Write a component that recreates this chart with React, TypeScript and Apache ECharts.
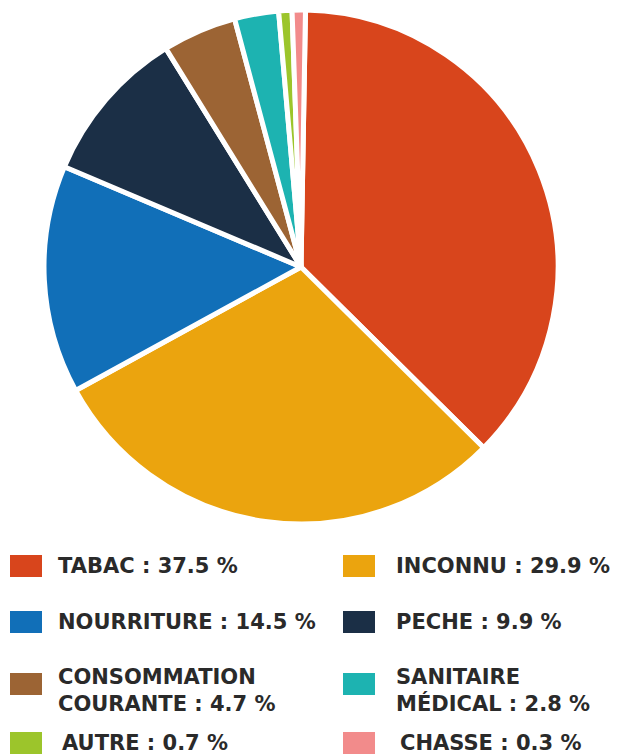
import React, { useEffect, useRef } from "react";
import * as echarts from "echarts";

const categories = [
  "TABAC",
  "INCONNU",
  "NOURRITURE",
  "PECHE",
  "CONSOMMATION\nCOURANTE",
  "SANITAIRE\nMÉDICAL",
  "AUTRE",
  "CHASSE",
];
const values = [37.5, 29.9, 14.5, 9.9, 4.7, 2.8, 0.7, 0.3];
const colors = [
  "#D8451C",
  "#EBA40E",
  "#116FB8",
  "#1B2F46",
  "#9C6434",
  "#1DB3B1",
  "#9CC52B",
  "#F28B8B",
];

export default function App() {
  const ref = useRef<HTMLDivElement>(null);

  useEffect(() => {
    document.body.style.margin = "0";
    const chart = echarts.init(ref.current!, null, { renderer: "svg" });

    const font = "DejaVu Sans";
    const colSwatchX = [10, 343];
    const colTextX = [58, 396];
    const rowY = [566, 622, 690, 743];
    const swatchOffset = [0, 0, -6, 0];

    const legendEls: any[] = [];
    categories.forEach((name, i) => {
      const col = i % 2;
      const row = Math.floor(i / 2);
      const cy = rowY[row];
      legendEls.push({
        type: "rect",
        shape: { x: colSwatchX[col], y: cy - 11 + swatchOffset[row], width: 32, height: 22 },
        style: { fill: colors[i] },
      });
      legendEls.push({
        type: "text",
        x: colTextX[col] + (row === 3 ? 4 : 0),
        y: cy,
        style: {
          text: `${name} : ${values[i].toFixed(1)} %`,
          fill: "#2a2a2a",
          font: `bold 21px "${font}"`,
          textVerticalAlign: "middle",
          verticalAlign: "middle",
          lineHeight: 27,
        },
      });
    });

    chart.setOption({
      animation: false,
      backgroundColor: "#ffffff",
      series: [
        {
          type: "pie",
          center: [301, 267],
          radius: 257,
          startAngle: 89,
          clockwise: true,
          minAngle: 3,
          label: { show: false },
          labelLine: { show: false },
          silent: true,
          itemStyle: { borderColor: "#ffffff", borderWidth: 5 },
          data: categories.map((c, i) => ({
            name: c,
            value: values[i],
            itemStyle: { color: colors[i] },
          })),
        },
      ],
      graphic: legendEls,
    });

    return () => chart.dispose();
  }, []);

  return <div ref={ref} style={{ width: 622, height: 754 }} />;
}
